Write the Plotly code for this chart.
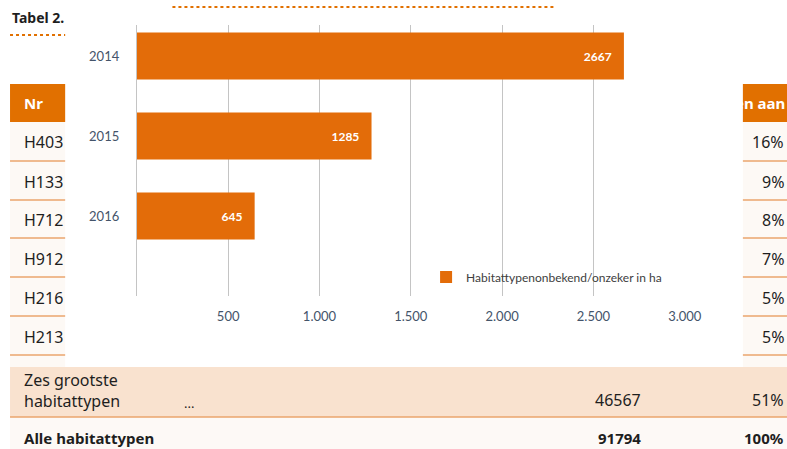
import plotly.graph_objects as go

# ---------------- data ----------------
years = ["2014", "2015", "2016"]
area_ha = [2667, 1285, 645]
series_name = "Habitattypenonbekend/onzeker in ha"
x_tickvals = [500, 1000, 1500, 2000, 2500, 3000]
x_ticktext = ["500", "1.000", "1.500", "2.000", "2.500", "3.000"]

# background table (partly hidden behind chart)
table_title = "Tabel 2."
header_left = "Nr"
header_right = "en aan"
row_codes_visible = ["H403", "H133", "H712", "H912", "H216", "H213"]
row_shares = ["16%", "9%", "8%", "7%", "5%", "5%"]
sum_label = "Zes grootste<br>habitattypen"
sum_value = "46567"
sum_share = "51%"
total_label = "Alle habitattypen"
total_value = "91794"
total_share = "100%"

W, H = 787, 449
FIG_W = 806
def px(x): return x / W
def py(y): return 1 - y / H

ORANGE = "#e17000"
BAR = "#e36c09"
LINE = "#eaa56c"
DARK = "#1e1e1e"
TICK = "#44546a"
TFONT = "Noto Sans"
CFONT = "Lato"

fig = go.Figure()
fig.add_trace(go.Bar(
    y=years, x=area_ha, orientation="h", name=series_name,
    marker=dict(color=BAR, line=dict(width=0)),
    text=area_ha, texttemplate="<b>%{x}</b>&nbsp;&nbsp;&nbsp;",
    textposition="inside", insidetextanchor="end",
    textfont=dict(family=CFONT, size=12, color="white"),
    showlegend=True,
))

shapes = []
def rect(x0, y0, x1, y1, color):
    shapes.append(dict(type="rect", xref="paper", yref="paper", layer="below",
                       x0=px(x0), x1=px(x1), y0=py(y1), y1=py(y0),
                       fillcolor=color, line=dict(width=0)))
def hline(x0, x1, y, color, width=1.5, dash="solid"):
    shapes.append(dict(type="line", xref="paper", yref="paper", layer="below",
                       x0=px(x0), x1=px(x1), y0=py(y), y1=py(y),
                       line=dict(color=color, width=width, dash=dash)))

# table backgrounds
rect(10, 122, 787, 367, "#fdf9f5")
rect(10, 84, 787, 122, ORANGE)
rect(10, 367, 787, 417, "#f9e2cf")
rect(10, 417, 787, 449, "#fdf9f6")
for yy in [161, 200, 238, 277, 316, 355, 417]:
    hline(10, 787, yy, LINE)
hline(10, 66, 35, ORANGE, 2, "dot")
# white chart box over the table
rect(65, 0, 741, 367, "white")
hline(172, 552, 7, ORANGE, 2, "dot")

ann = []
def text(x, y, s, anchor="left", size=16, color=DARK, bold=False):
    ann.append(dict(xref="paper", yref="paper", x=px(x), y=py(y),
                    xanchor=anchor, yanchor="middle", showarrow=False,
                    text=f"<b>{s}</b>" if bold else s,
                    font=dict(family=TFONT, size=size, color=color)))

text(10, 18, table_title, size=14, bold=True)
text(22, 103, header_left, size=15, color="white", bold=True)
text(785, 103, header_right, anchor="right", size=15, color="white", bold=True)
row_y = [142, 182, 220, 259, 298, 337]
for code, share, yy in zip(row_codes_visible, row_shares, row_y):
    text(22, yy, code)
    text(784, yy, share, anchor="right")
ann.append(dict(xref="paper", yref="paper", x=px(22), y=py(390), xanchor="left",
                yanchor="middle", showarrow=False, align="left", text=sum_label,
                font=dict(family=TFONT, size=16, color=DARK)))
text(182, 403, "...", size=13)
text(641, 400, sum_value, anchor="right")
text(784, 400, sum_share, anchor="right")
text(22, 438, total_label, size=15, bold=True)
text(641, 438, total_value, anchor="right", size=15, bold=True)
text(784, 438, total_share, anchor="right", size=15, bold=True)

fig.update_layout(
    width=FIG_W, height=H, autosize=False, margin=dict(l=0, r=0, t=0, b=0),
    paper_bgcolor="white", plot_bgcolor="rgba(0,0,0,0)",
    bargap=0.4125,
    shapes=shapes, annotations=ann,
    xaxis=dict(domain=[px(136.5), px(683)], range=[0, 3000],
               tickvals=x_tickvals, ticktext=x_ticktext,
               showgrid=True, gridcolor="#c4c4c4", gridwidth=1,
               zeroline=False, showline=False, ticks="",
               ticklabelstandoff=11,
               tickfont=dict(family=CFONT, size=13, color=TICK)),
    yaxis=dict(domain=[py(296), py(25)], type="category",
               categoryorder="array", categoryarray=years,
               range=[3.0, -0.3875],
               showgrid=False, zeroline=False,
               showline=True, linecolor="#c4c4c4", linewidth=1,
               ticks="", ticklabelstandoff=14,
               tickfont=dict(family=CFONT, size=13, color=TICK)),
    legend=dict(x=px(425), y=py(277), xanchor="left", yanchor="middle",
                bgcolor="rgba(0,0,0,0)",
                font=dict(family=CFONT, size=12, color="#404040")),
)

post = (
    "document.body.style.margin='0px';"
    "document.body.style.overflow='hidden';"
)
fig.write_html("out.html", config={"displayModeBar": False}, post_script=post)
